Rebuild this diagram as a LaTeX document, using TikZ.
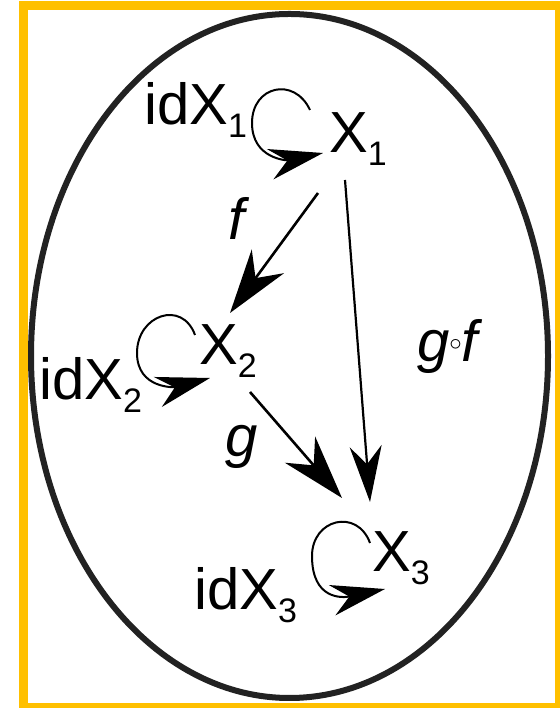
\documentclass[tikz,border=0pt]{standalone}
\usepackage{fontspec}
\setmainfont{Liberation Sans}
\usetikzlibrary{arrows.meta}
\definecolor{framecol}{HTML}{FFC000}
\definecolor{setcol}{HTML}{222222}
\newcommand{\objname}[2]{#1\raisebox{-13pt}{\fontsize{34}{36}\selectfont #2}}
\tikzset{
  obj/.style={anchor=base west, inner sep=0pt, font=\fontsize{58}{60}\selectfont},
  mor/.style={obj, font=\fontsize{58}{60}\selectfont\itshape},
  arr/.style={-{Stealth[length=64pt, width=40pt]}, line width=2.6pt},
  thinarr/.style={-{Stealth[length=56pt, width=32pt]}, line width=2.2pt},
  idloop/.style={-{Stealth[length=54pt, width=31pt]}, line width=2pt},
  setline/.style={draw=setcol, line width=6pt},
  frameline/.style={draw=framecol, line width=9pt}}

\begin{document}
\begin{tikzpicture}[x=1pt, y=1pt]
  \useasboundingbox (0,0) rectangle (559,708);
  \fill[white] (0,0) rectangle (559,708);
  \draw[frameline] (23,0) rectangle (559,702);
  \draw[setline] (289.5,352) ellipse [x radius=258.5, y radius=342];
  \node[obj] (x1) at (329,555) {\objname{X}{1}};
  \node[obj] (x2) at (199,343) {\objname{X}{2}};
  \node[obj] (x3) at (372,136) {\objname{X}{3}};
  \node[obj] (id1) at (144,583) {\objname{idX}{1}};
  \node[obj] (id2) at (39,308) {\objname{idX}{2}};
  \node[obj] (id3) at (194,98) {\objname{idX}{3}};
  \node[mor] (lf) at (228,468) {f};
  \node[mor] (lg) at (225,251) {g};
  \node[mor] (lgf) at (417,346)
    {g\raisebox{11pt}{\fontsize{30}{30}\selectfont$\circ$}f};
  \draw[arr] ([shift={(-11,-40)}]x1.base west) -- ([shift={(31,52)}]x2.base west);
  \draw[arr] ([shift={(51,-27)}]x2.base west) -- ([shift={(-30,74)}]x3.base west);
  \draw[thinarr] ([shift={(16,-27)}]x1.base west) -- ([shift={(-2,70)}]x3.base west);
  \draw[idloop] ([shift={(-19,43)}]x1.base west) to[out=115, in=90, looseness=1.6]
    ([shift={(-77,30)}]x1.base west) to[out=-90, in=192, looseness=1.2]
    ([shift={(-6,0)}]x1.base west);
  \draw[idloop] ([shift={(-4,30)}]x2.base west) to[out=110, in=90, looseness=1.6]
    ([shift={(-62,12)}]x2.base west) to[out=-90, in=195, looseness=1.2]
    ([shift={(11,-13)}]x2.base west);
  \draw[idloop] ([shift={(-2,29)}]x3.base west) to[out=110, in=90, looseness=1.6]
    ([shift={(-60,16)}]x3.base west) to[out=-90, in=192, looseness=1.4]
    ([shift={(13,-17)}]x3.base west);
\end{tikzpicture}
\end{document}
